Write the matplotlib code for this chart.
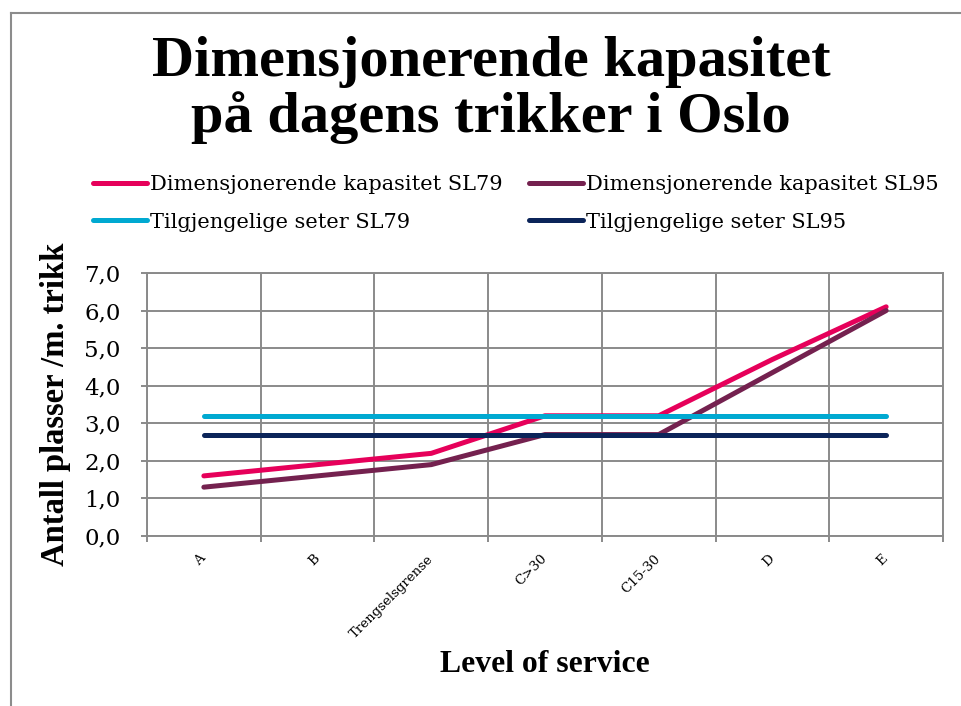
import matplotlib
matplotlib.use("Agg")
import matplotlib.pyplot as plt
from matplotlib.lines import Line2D
import numpy as np

categories = ["A", "B", "Trengselsgrense", "C>30", "C15-30", "D", "E"]
dim_sl79 = [1.6, 1.9, 2.2, 3.2, 3.2, 4.7, 6.1]
dim_sl95 = [1.3, 1.6, 1.9, 2.7, 2.7, 4.35, 6.0]
seats_sl79 = [3.2, 3.2, 3.2, 3.2, 3.2, 3.2, 3.2]
seats_sl95 = [2.7, 2.7, 2.7, 2.7, 2.7, 2.7, 2.7]
yticks = [0, 1, 2, 3, 4, 5, 6, 7]

series_names = ["Dimensjonerende kapasitet SL79", "Dimensjonerende kapasitet SL95",
                "Tilgjengelige seter SL79", "Tilgjengelige seter SL95"]
colors = ["#E6005A", "#74214F", "#00A9D1", "#0B2459"]

W, H = 961, 706
fig = plt.figure(figsize=(W / 100, H / 100), dpi=100)
ax = fig.add_axes([147 / W, 1 - 536 / H, (943 - 147) / W, (536 - 273) / H])

x = np.arange(len(categories))
lines = []
for vals, c, name in zip([dim_sl79, dim_sl95, seats_sl79, seats_sl95], colors, series_names):
    ln, = ax.plot(x, vals, color=c, lw=3.6, solid_capstyle="round", label=name, zorder=3)
    lines.append(ln)

ax.set_xlim(-0.5, len(categories) - 0.5)
ax.set_ylim(0, 7)
ax.set_yticks(yticks)
ax.set_yticklabels([f"{v:.1f}".replace(".", ",") for v in yticks],
                   fontfamily="DejaVu Serif", fontsize=16.5)
ax.set_xticks(x)
ax.set_xticklabels(categories, rotation=45, ha="right", va="center",
                   rotation_mode="anchor", fontfamily="DejaVu Serif", fontsize=9.6)
ax.set_xticks(np.arange(-0.5, len(categories)), minor=True)

gcol = "#8A8A8A"
ax.grid(True, which="minor", axis="x", color=gcol, lw=1.4)
ax.grid(True, which="major", axis="y", color=gcol, lw=1.4)
ax.tick_params(axis="x", which="major", length=0, pad=15)
ax.tick_params(axis="x", which="minor", length=4, width=1.4, color=gcol, direction="out")
ax.tick_params(axis="y", which="major", length=4, width=1.4, color=gcol, direction="out", pad=15)
for s in ax.spines.values():
    s.set_color(gcol)
    s.set_linewidth(1.4)
ax.set_axisbelow(True)

ax.set_ylabel("Antall plasser /m. trikk", fontfamily="Liberation Serif",
              fontweight="bold", fontsize=23.5)
ax.yaxis.set_label_coords(-(147 - 71) / (943 - 147), (536 - 404) / (536 - 273))
ax.set_xlabel("Level of service", fontfamily="Liberation Serif",
              fontweight="bold", fontsize=22.8)
ax.xaxis.set_label_coords((545 - 147) / (943 - 147), -(650 - 536) / (536 - 273))

fig.text(491 / W, 1 - 90 / H, "Dimensjonerende kapasitet\npå dagens trikker i Oslo",
         ha="center", va="center", fontfamily="Liberation Serif", fontweight="bold",
         fontsize=42, linespacing=1.08)

order = [0, 2, 1, 3]
fig.legend([lines[i] for i in order], [series_names[i] for i in order],
           loc="upper left", bbox_to_anchor=(93 / W, 1 - 175 / H), ncol=2,
           frameon=False, prop={"family": "DejaVu Serif", "size": 15},
           handlelength=2.6, handletextpad=0.15, columnspacing=1.25,
           labelspacing=0.9, borderaxespad=0, borderpad=0)

fig.add_artist(Line2D([11 / W, 1.0], [1 - 13 / H, 1 - 13 / H], color="#8C8C8C", lw=1.5,
                      transform=fig.transFigure))
fig.add_artist(Line2D([11 / W, 11 / W], [0, 1 - 13 / H], color="#8C8C8C", lw=1.5,
                      transform=fig.transFigure))

fig.savefig("out.png", dpi=100)
